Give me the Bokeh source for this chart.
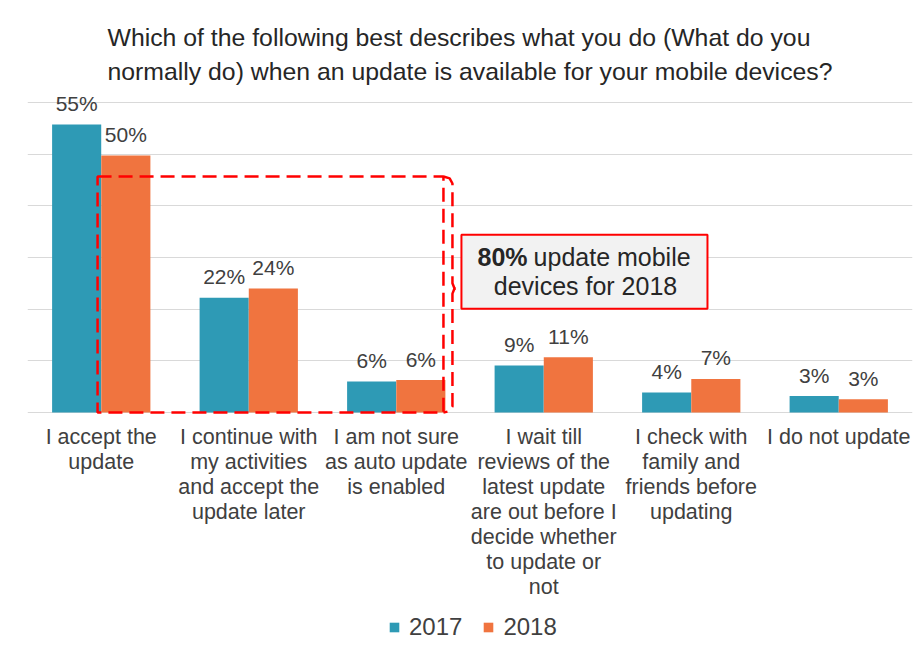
from bokeh.plotting import figure
from bokeh.models import (ColumnDataSource, FixedTicker, Legend, LegendItem, Label)
from bokeh.transform import dodge
from bokeh.embed import file_html
from bokeh.resources import INLINE
from bokeh.core.properties import value

categories = [
    "I accept the\nupdate",
    "I continue with\nmy activities\nand accept the\nupdate later",
    "I am not sure\nas auto update\nis enabled",
    "I wait till\nreviews of the\nlatest update\nare out before I\ndecide whether\nto update or\nnot",
    "I check with\nfamily and\nfriends before\nupdating",
    "I do not update",
]
values_2017 = [55.7, 22.2, 6.0, 9.1, 3.9, 3.2]
values_2018 = [49.7, 24.0, 6.3, 10.7, 6.5, 2.6]
labels_2017 = ["55%", "22%", "6%", "9%", "4%", "3%"]
labels_2018 = ["50%", "24%", "6%", "11%", "7%", "3%"]
y_ticks = [0, 10, 20, 30, 40, 50, 60]

C2017 = "#2E9AB5"
C2018 = "#F0743F"
TXT = "#404040"
FONT = "Liberation Sans"

src = ColumnDataSource(dict(cat=categories, v17=values_2017, v18=values_2018,
                            l17=labels_2017, l18=labels_2018,
                            ylab=[-2.4] * len(categories)))

# the frame extends below the zero line so that the category labels and the
# legend can be drawn inside it; gridlines only at 0..60
p = figure(x_range=categories, y_range=(-46.0, 63.25), width=915, height=650,
           output_backend="svg", toolbar_location=None,
           min_border_left=27, min_border_right=3, min_border_top=85,
           min_border_bottom=0)
p.outline_line_color = None
p.background_fill_color = "white"
p.border_fill_color = "white"

p.title.text = ("Which of the following best describes what you do (What do you\n"
                "normally do) when an update is available for your mobile devices?")
p.title.align = "center"
p.title.text_font = FONT
p.title.text_font_size = "24.8px"
p.title.text_font_style = "normal"
p.title.text_color = "#262626"
p.title.text_line_height = 1.28
p.title.standoff = 0

p.yaxis.visible = False
p.xaxis.visible = False
p.ygrid.ticker = FixedTicker(ticks=y_ticks)
p.ygrid.grid_line_color = "#d9d9d9"
p.ygrid.grid_line_width = 1
p.xgrid.grid_line_color = None

bw = 0.333
r17 = p.vbar(x=dodge("cat", -0.1667, range=p.x_range), top="v17", width=bw,
             source=src, color=C2017, line_color=None)
r18 = p.vbar(x=dodge("cat", 0.1667, range=p.x_range), top="v18", width=bw,
             source=src, color=C2018, line_color=None)

p.text(x=dodge("cat", -0.1667, range=p.x_range), y="v17", text="l17", source=src,
       text_align="center", text_baseline="alphabetic", y_offset=-21,
       text_font=value(FONT), text_font_size="21px", text_color=TXT)
p.text(x=dodge("cat", 0.1667, range=p.x_range), y="v18", text="l18", source=src,
       text_align="center", text_baseline="alphabetic", y_offset=-21,
       text_font=value(FONT), text_font_size="21px", text_color=TXT)

# category labels (multi-line)
p.text(x="cat", y="ylab", text="cat", source=src,
       text_align="center", text_baseline="top",
       text_font=value(FONT), text_font_size="21.5px",
       text_color=TXT, text_line_height=1.04)

# dashed callout around the "update" categories
RED = "#FF0000"
p.quad(left=[0.475], right=[2.82], top=[45.65], bottom=[0.0], fill_color=None,
       line_color=RED, line_width=2.5, line_dash="14 7")
p.line(x=[2.82, 2.862, 2.881, 2.881, 2.895, 2.936], y=[45.65, 45.3, 44.3, 25.0, 24.0, 24.0],
       line_color=RED, line_width=2.5, line_dash="14 7")
p.line(x=[2.895, 2.881, 2.881, 2.862, 2.82], y=[24.0, 23.0, 1.2, 0.3, 0.0],
       line_color=RED, line_width=2.5, line_dash="14 7")

# callout box
p.quad(left=[2.942], right=[4.61], top=[34.4], bottom=[20.1], fill_color="#F2F2F2",
       line_color=RED, line_width=2)
p.add_layout(Label(x=3.051, y=30.0, text="80%", text_font=FONT, text_font_size="25px",
                   text_font_style="bold", text_color="#262626", text_align="left",
                   text_baseline="middle"))
p.add_layout(Label(x=3.431, y=30.0, text="update mobile", text_font=FONT,
                   text_font_size="25px", text_color="#262626", text_align="left",
                   text_baseline="middle"))
p.add_layout(Label(x=3.783, y=24.5, text="devices for 2018", text_font=FONT,
                   text_font_size="25px", text_color="#262626", text_align="center",
                   text_baseline="middle"))

legend = Legend(items=[LegendItem(label="2017", renderers=[r17]),
                       LegendItem(label="2018", renderers=[r18])],
                orientation="horizontal", location=(361, 9),
                label_text_font=FONT, label_text_font_size="24px",
                label_text_color=TXT, glyph_width=12, glyph_height=12,
                label_standoff=9, spacing=20, border_line_color=None,
                background_fill_alpha=0, margin=0, padding=0)
p.add_layout(legend, "center")

open("out.html", "w").write(file_html(p, INLINE))
